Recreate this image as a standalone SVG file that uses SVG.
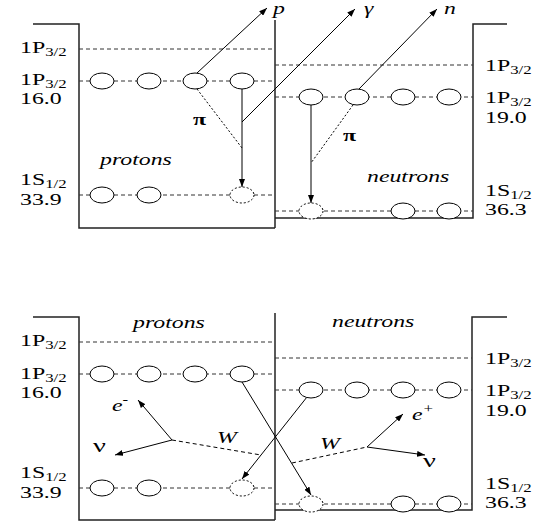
<svg xmlns="http://www.w3.org/2000/svg" width="543" height="523" viewBox="0 0 543 523">
<defs>
<style>
.box{fill:none;stroke:#222;stroke-width:1.5}
.lvl{fill:none;stroke:#333;stroke-width:1;stroke-dasharray:4 3}
.orb{fill:#fff;stroke:#000;stroke-width:1}
.hole{fill:#fff;stroke:#000;stroke-width:1;stroke-dasharray:2 2}
.arr{fill:none;stroke:#000;stroke-width:1;marker-end:url(#ah)}
.dot{fill:none;stroke:#000;stroke-width:1;stroke-dasharray:2 2}
.wl{fill:none;stroke:#000;stroke-width:1;stroke-dasharray:4 3}
.t1{font-family:"Liberation Serif","Times New Roman",serif;font-size:17px;fill:#000}
.it{font-style:italic}
.b{font-weight:bold}
.sub{font-size:12px}
</style>
<marker id="ah" viewBox="0 0 8 6" refX="8" refY="3" markerWidth="8" markerHeight="6" markerUnits="userSpaceOnUse" orient="auto"><path d="M0,0 L8,3 L0,6 z" fill="#000"/></marker>
</defs>

<g id="top-panel" class="t1">
<g id="top-boxes">
<polyline class="box" points="33,24 79,24 79,228 275,228"/>
<line class="box" x1="275" y1="20" x2="275" y2="228"/>
<polyline class="box" points="275,218 473,218 473,24 507,24"/>
</g>
<g id="top-levels">
<line class="lvl" x1="79" y1="49" x2="275" y2="49"/>
<line class="lvl" x1="79" y1="81" x2="275" y2="81"/>
<line class="lvl" x1="79" y1="195" x2="275" y2="195"/>
<line class="lvl" x1="275" y1="65" x2="473" y2="65"/>
<line class="lvl" x1="275" y1="97" x2="473" y2="97"/>
<line class="lvl" x1="275" y1="211" x2="473" y2="211"/>
</g>
<g id="top-connectors">
<line class="arr" x1="197" y1="73" x2="267" y2="8"/>
<line class="arr" x1="242" y1="122" x2="355" y2="9"/>
<line class="arr" x1="359" y1="89" x2="437" y2="9"/>
<line class="arr" x1="242" y1="89" x2="242" y2="187"/>
<line class="arr" x1="311" y1="105" x2="311" y2="203"/>
<line class="dot" x1="197" y1="89" x2="242" y2="148"/>
<line class="dot" x1="353" y1="105" x2="311" y2="163"/>
</g>
<g id="top-proton-orbitals">
<ellipse class="orb" cx="102" cy="81" rx="12" ry="8"/>
<ellipse class="orb" cx="149" cy="81" rx="12" ry="8"/>
<ellipse class="orb" cx="195" cy="81" rx="12" ry="8"/>
<ellipse class="orb" cx="242" cy="81" rx="12" ry="8"/>
<ellipse class="orb" cx="102" cy="195" rx="12" ry="8"/>
<ellipse class="orb" cx="149" cy="195" rx="12" ry="8"/>
<ellipse class="hole" cx="242" cy="195" rx="12" ry="8"/>
</g>
<g id="top-neutron-orbitals">
<ellipse class="orb" cx="311" cy="97" rx="12" ry="8"/>
<ellipse class="orb" cx="357" cy="97" rx="12" ry="8"/>
<ellipse class="orb" cx="403" cy="97" rx="12" ry="8"/>
<ellipse class="orb" cx="449" cy="97" rx="12" ry="8"/>
<ellipse class="hole" cx="311" cy="211" rx="12" ry="8"/>
<ellipse class="orb" cx="403" cy="211" rx="12" ry="8"/>
<ellipse class="orb" cx="449" cy="211" rx="12" ry="8"/>
</g>
<g id="top-labels">
<text transform="matrix(1.4,0,0,1,20,53)">1P<tspan class="sub" dy="3">3/2</tspan></text>
<text transform="matrix(1.4,0,0,1,20,85)">1P<tspan class="sub" dy="3">3/2</tspan></text>
<text transform="matrix(1.4,0,0,1,20,104)">16.0</text>
<text transform="matrix(1.4,0,0,1,20,185)">1S<tspan class="sub" dy="3">1/2</tspan></text>
<text transform="matrix(1.4,0,0,1,20,205)">33.9</text>
<text transform="matrix(1.4,0,0,1,485,71)">1P<tspan class="sub" dy="3">3/2</tspan></text>
<text transform="matrix(1.4,0,0,1,485,103)">1P<tspan class="sub" dy="3">3/2</tspan></text>
<text transform="matrix(1.4,0,0,1,485,123)">19.0</text>
<text transform="matrix(1.4,0,0,1,485,196)">1S<tspan class="sub" dy="3">1/2</tspan></text>
<text transform="matrix(1.4,0,0,1,485,215)">36.3</text>
<text class="it" transform="matrix(1.4,0,0,1,273,14)">p</text>
<text class="it" transform="matrix(1.4,0,0,1,364,14)">γ</text>
<text class="it" transform="matrix(1.4,0,0,1,444,14)">n</text>
<text class="b" transform="matrix(1.4,0,0,1,193,125)">π</text>
<text class="b" transform="matrix(1.4,0,0,1,343,141)">π</text>
<text class="it" transform="matrix(1.4,0,0,1,100,165)">protons</text>
<text class="it" transform="matrix(1.4,0,0,1,367,182)">neutrons</text>
</g>
</g>

<g id="bottom-panel" class="t1">
<g id="bottom-boxes">
<polyline class="box" points="33,317 79,317 79,520 275,520"/>
<line class="box" x1="275" y1="313" x2="275" y2="520"/>
<polyline class="box" points="275,510 472,510 472,317 507,317"/>
</g>
<g id="bottom-levels">
<line class="lvl" x1="79" y1="342" x2="275" y2="342"/>
<line class="lvl" x1="79" y1="374" x2="275" y2="374"/>
<line class="lvl" x1="79" y1="488" x2="275" y2="488"/>
<line class="lvl" x1="275" y1="358" x2="472" y2="358"/>
<line class="lvl" x1="275" y1="390" x2="472" y2="390"/>
<line class="lvl" x1="275" y1="504" x2="472" y2="504"/>
</g>
<g id="bottom-connectors">
<line class="arr" x1="242" y1="382" x2="311" y2="495"/>
<line class="arr" x1="307" y1="397" x2="242" y2="479"/>
<line class="wl" x1="172" y1="440" x2="261" y2="455"/>
<line class="arr" x1="172" y1="440" x2="138" y2="400"/>
<line class="arr" x1="172" y1="440" x2="115" y2="455"/>
<line class="wl" x1="292" y1="463" x2="367" y2="447"/>
<line class="arr" x1="367" y1="447" x2="403" y2="414"/>
<line class="arr" x1="367" y1="447" x2="425" y2="455"/>
</g>
<g id="bottom-proton-orbitals">
<ellipse class="orb" cx="102" cy="374" rx="12" ry="8"/>
<ellipse class="orb" cx="149" cy="374" rx="12" ry="8"/>
<ellipse class="orb" cx="195" cy="374" rx="12" ry="8"/>
<ellipse class="orb" cx="242" cy="374" rx="12" ry="8"/>
<ellipse class="orb" cx="102" cy="488" rx="12" ry="8"/>
<ellipse class="orb" cx="149" cy="488" rx="12" ry="8"/>
<ellipse class="hole" cx="242" cy="488" rx="12" ry="8"/>
</g>
<g id="bottom-neutron-orbitals">
<ellipse class="orb" cx="311" cy="390" rx="12" ry="8"/>
<ellipse class="orb" cx="357" cy="390" rx="12" ry="8"/>
<ellipse class="orb" cx="403" cy="390" rx="12" ry="8"/>
<ellipse class="orb" cx="449" cy="390" rx="12" ry="8"/>
<ellipse class="hole" cx="311" cy="504" rx="12" ry="8"/>
<ellipse class="orb" cx="403" cy="504" rx="12" ry="8"/>
<ellipse class="orb" cx="449" cy="504" rx="12" ry="8"/>
</g>
<g id="bottom-labels">
<text transform="matrix(1.4,0,0,1,20,346)">1P<tspan class="sub" dy="3">3/2</tspan></text>
<text transform="matrix(1.4,0,0,1,20,379)">1P<tspan class="sub" dy="3">3/2</tspan></text>
<text transform="matrix(1.4,0,0,1,20,398)">16.0</text>
<text transform="matrix(1.4,0,0,1,20,478)">1S<tspan class="sub" dy="3">1/2</tspan></text>
<text transform="matrix(1.4,0,0,1,20,498)">33.9</text>
<text transform="matrix(1.4,0,0,1,485,364)">1P<tspan class="sub" dy="3">3/2</tspan></text>
<text transform="matrix(1.4,0,0,1,485,396)">1P<tspan class="sub" dy="3">3/2</tspan></text>
<text transform="matrix(1.4,0,0,1,485,416)">19.0</text>
<text transform="matrix(1.4,0,0,1,485,489)">1S<tspan class="sub" dy="3">1/2</tspan></text>
<text transform="matrix(1.4,0,0,1,485,508)">36.3</text>
<text class="it" transform="matrix(1.4,0,0,1,133,328)">protons</text>
<text class="it" transform="matrix(1.4,0,0,1,332,327)">neutrons</text>
<text class="it" transform="matrix(1.4,0,0,1,112,411)">e<tspan class="sub" dy="-7">-</tspan></text>
<text transform="matrix(1.5,0,0,1,93,452)" font-size="19">ν</text>
<text class="it" transform="matrix(1.4,0,0,1,217,443)">W</text>
<text class="it" transform="matrix(1.4,0,0,1,320,449)">W</text>
<text class="it" transform="matrix(1.4,0,0,1,412,420)">e<tspan class="sub" dy="-7">+</tspan></text>
<text transform="matrix(1.5,0,0,1,423,467)" font-size="19">ν</text>
</g>
</g>
</svg>
